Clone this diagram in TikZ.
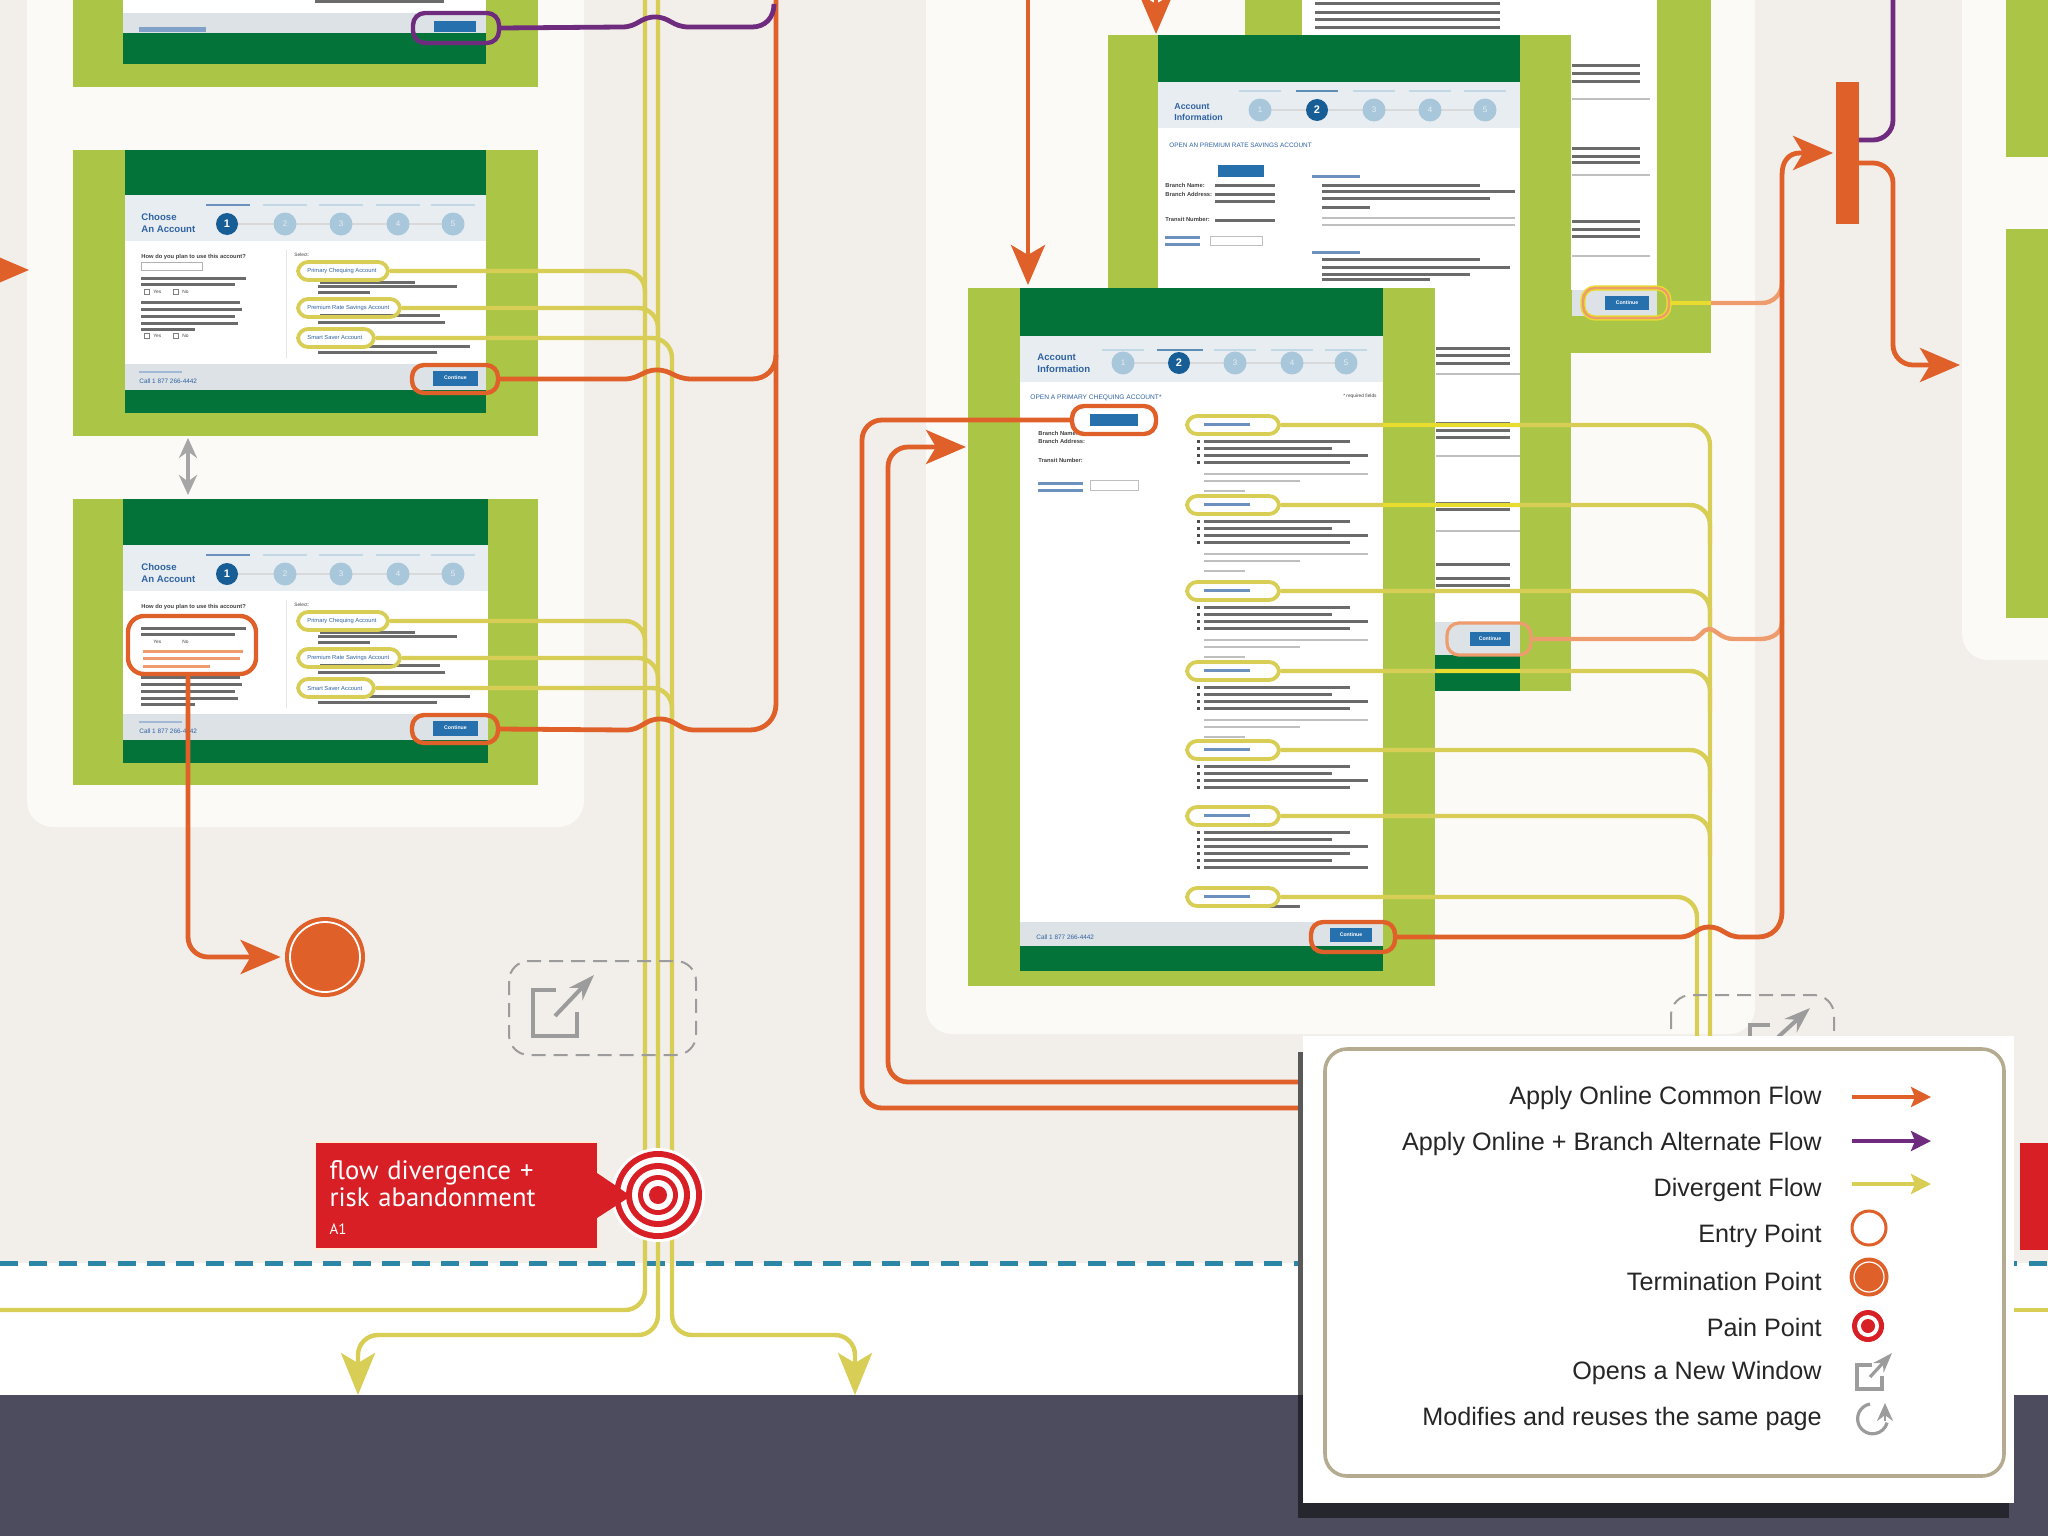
\documentclass[tikz,border=0pt]{standalone}
\usepackage{fontspec}
\setmainfont{Liberation Sans}
\newfontfamily\calloutfont{PT Sans}
\usetikzlibrary{arrows.meta,positioning,calc}
\definecolor{pagebg}{HTML}{F2EEEA}
\definecolor{panelbg}{HTML}{FCFAF7}
\definecolor{framegreen}{HTML}{ABC646}
\definecolor{darkgreen}{HTML}{04733A}
\definecolor{headbg}{HTML}{E8EDF1}
\definecolor{footbg}{HTML}{DCE2E5}
\definecolor{stepdim}{HTML}{A9C7DA}
\definecolor{stepon}{HTML}{175E97}
\definecolor{btnblue}{HTML}{2670AD}
\definecolor{linkblue}{HTML}{2F62A3}
\definecolor{floworange}{HTML}{E0602A}
\definecolor{flowlight}{HTML}{EE9C6E}
\definecolor{flowyellow}{HTML}{D8CE55}
\definecolor{brightyellow}{HTML}{E8DC2E}
\definecolor{flowpurple}{HTML}{6F2C7E}
\definecolor{painred}{HTML}{D81F26}
\definecolor{slatedark}{HTML}{4C4C5E}
\definecolor{legendshade}{HTML}{26262F}
\definecolor{dashblue}{HTML}{2B87A5}
\definecolor{icongrey}{HTML}{9C9C9C}
\definecolor{legendline}{HTML}{B5AB90}

\begin{document}
\begin{tikzpicture}[
    x=0.5pt, y=-0.5pt,
    panel/.style={fill=panelbg, rounded corners=13pt},
    greenframe/.style={fill=framegreen, inner sep=0},
    shottext/.style={font=\fontsize{2.9}{3.5}\selectfont\bfseries, inner sep=0, anchor=west, text=black!75},
    linktext/.style={font=\fontsize{2.9}{3.5}\selectfont, inner sep=0, anchor=west, text=linkblue},
    headtext/.style={font=\fontsize{4.8}{5.8}\selectfont\bfseries, inner sep=0, anchor=west, align=left, text=linkblue},
    btn/.style={fill=btnblue, text=white, font=\fontsize{2.6}{3}\selectfont\bfseries, inner sep=0},
    stepdot/.style={circle, fill=stepdim, inner sep=0, minimum size=11.5pt, text=white!70!stepdim, font=\fontsize{4}{4}\selectfont},
    stepact/.style={circle, fill=stepon, inner sep=0, minimum size=11pt, text=white, font=\fontsize{5.5}{6}\selectfont\bfseries},
    textbar/.style={fill=black!58},
    notebar/.style={fill=black!25},
    labelbar/.style={fill=stepdim!70},
    yellowring/.style={draw=flowyellow, line width=1.9pt, rounded corners=5pt, inner sep=0},
    orangering/.style={draw=floworange, line width=2.2pt, rounded corners=6pt, inner sep=0},
    purplering/.style={draw=flowpurple, line width=2.2pt, rounded corners=6pt, inner sep=0},
    lightring/.style={draw=flowlight, line width=1.6pt, rounded corners=6pt, inner sep=0},
    yellowflow/.style={draw=flowyellow, line width=2.2pt, rounded corners=10pt},
    orangeflow/.style={draw=floworange, line width=2.4pt, rounded corners=10pt},
    lightflow/.style={draw=flowlight, line width=2.2pt, rounded corners=10pt},
    purpleflow/.style={draw=flowpurple, line width=2.4pt, rounded corners=10pt},
    orangehead/.style={-{Stealth[length=20pt,width=17pt,inset=5pt]}},
    yellowhead/.style={-{Stealth[length=21pt,width=17pt,inset=5pt]}},
    popupbox/.style={draw=icongrey, line width=1pt, dashed, dash pattern=on 7pt off 4pt, rounded corners=10pt},
    popupicon/.style={draw=icongrey, line width=2pt},
    legtext/.style={anchor=east, inner sep=0, text=black!85, font=\fontsize{12.6}{14}\selectfont},
    >=Stealth
  ]
  \useasboundingbox (0,0) rectangle (2048,1536);
  \clip (0,0) rectangle (2048,1536);

  % Ground and panels
  \fill[pagebg] (0,0) rectangle (2048,1263);
  \fill[white] (0,1263) rectangle (2048,1395);
  \fill[slatedark] (0,1395) rectangle (2048,1536);
  \fill[panel] (27,-40) rectangle (584,827);
  \fill[panel] (926,-40) rectangle (1755,1034);
  \fill[panel] (1962,-40) rectangle (2100,660);
  \fill[framegreen] (2006,-10) rectangle (2060,157);
  \fill[framegreen] (2006,229) rectangle (2060,618);
  \draw[dashblue, line width=2.5pt, dash pattern=on 9pt off 5.7pt] (0,1263) -- (2048,1263);

  % Back screen
  \node[greenframe, minimum width=233pt, minimum height=190pt] (framee) at (1478,163) {};
  \fill[white] (1302,-10) rectangle (1657,290);
  \fill[footbg] (1572,290) rectangle (1657,316);
  \foreach \ya in {64,72,80,147,155,161,220,228,235} {
    \fill[textbar] (1572,\ya) rectangle (1640,\ya+3);
  }
  \foreach \ya in {98,174,255} {
    \fill[notebar] (1572,\ya) rectangle (1650,\ya+2);
  }
  \foreach \ya in {2,11,18,26} {
    \fill[textbar] (1315,\ya) rectangle (1500,\ya+3);
  }
  \node[btn, minimum width=22pt, minimum height=7pt] (ebtnface) at (1627,303) {Continue};
  \node[draw=brightyellow, line width=2.6pt, rounded corners=6pt, inner sep=0, minimum width=43pt, minimum height=15pt] (ebtn) at (1626,303) {};
  \node[lightring, line width=1.2pt, minimum width=43pt, minimum height=15pt] (ebtnin) at (1626,303) {};

  % Savings screen
  \node[greenframe, minimum width=231.5pt, minimum height=328pt] (framed) at (1339.5,363) {};
  \fill[darkgreen] (1158,35) rectangle (1520,691);
  \fill[headbg] (1158,82) rectangle (1520,128);
  \fill[white] (1158,128) rectangle (1520,622);
  \fill[footbg] (1158,622) rectangle (1520,655);
  \draw[black!15, line width=.6pt] (1260,110) -- (1485,110);
  \foreach \sx/\sn in {1260/1,1374/3,1430/4,1485/5} {
    \node[stepdot] (dstep\sn) at (\sx,110) {\sn};
    \fill[labelbar] (\sx-21,90) rectangle (\sx+21,92);
  }
  \node[stepact] (dstep2) at (1317,110) {2};
  \fill[stepon!70] (1296,90) rectangle (1338,92);
  \node[headtext, font=\fontsize{4.4}{5.2}\selectfont\bfseries] (dhead) at (1174,112) {Account\\Information};
  \node[linktext, font=\fontsize{3.2}{4}\selectfont] (dtitle) at (1169,145) {OPEN AN PREMIUM RATE SAVINGS ACCOUNT};
  \node[btn, minimum width=23pt, minimum height=6pt] (dselect) at (1241,171) {};
  \node[shottext] (dbranch) at (1165,185) {Branch Name:};
  \node[shottext] (daddr) at (1165,194) {Branch Address:};
  \node[shottext] (dtransit) at (1165,219) {Transit Number:};
  \foreach \ya in {184,193,200,219} {
    \fill[textbar] (1215,\ya) rectangle (1275,\ya+2.6);
  }
  \foreach \ya in {236,243} {
    \fill[linkblue!70] (1165,\ya) rectangle (1200,\ya+2.5);
  }
  \draw[black!25, line width=.4pt] (1210,236) rectangle (1262,245);
  \foreach \ya in {175,251} {
    \fill[linkblue!70] (1312,\ya) rectangle (1360,\ya+3);
  }
  \foreach \xb/\ya in {1480/184,1515/190,1490/197,1370/206,1480/258,1510/266,1470/273,1430/278} {
    \fill[textbar] (1322,\ya) rectangle (\xb,\ya+3);
  }
  \foreach \ya in {217,224} {
    \fill[notebar] (1322,\ya) rectangle (1515,\ya+2);
  }
  \foreach \ya in {347,354,362,422,429,436,502,508,563,577,584} {
    \fill[textbar] (1436,\ya) rectangle (1510,\ya+3);
  }
  \foreach \ya in {373,455,530} {
    \fill[notebar] (1436,\ya) rectangle (1520,\ya+2);
  }
  \node[btn, minimum width=20pt, minimum height=7pt] (dbtnface) at (1490,639) {Continue};
  \node[lightring, minimum width=42pt, minimum height=16pt] (dbtn) at (1489,639) {};

  % Chequing screen
  \node[greenframe, minimum width=233.5pt, minimum height=349pt] (framef) at (1201.5,637) {};
  \fill[darkgreen] (1020,288) rectangle (1383,971);
  \fill[headbg] (1020,336) rectangle (1383,382);
  \fill[white] (1020,382) rectangle (1383,922);
  \fill[footbg] (1020,922) rectangle (1383,946);
  \draw[black!15, line width=.6pt] (1123,363) -- (1346,363);
  \foreach \sx/\sn in {1123/1,1235/3,1292/4,1346/5} {
    \node[stepdot] (fstep\sn) at (\sx,363) {\sn};
    \fill[labelbar] (\sx-21,349) rectangle (\sx+21,351);
  }
  \node[stepact] (fstep2) at (1179,363) {2};
  \fill[stepon!70] (1157,349) rectangle (1203,351);
  \node[headtext] (fhead) at (1037,363) {Account\\Information};
  \node[linktext, font=\fontsize{3.3}{4}\selectfont] (ftitle) at (1030,398) {OPEN A PRIMARY CHEQUING ACCOUNT*};
  \node[shottext, anchor=east, font=\fontsize{2.4}{3}\selectfont] (freq) at (1377,396) {* required fields};
  \node[btn, minimum width=24pt, minimum height=6pt] (fselface) at (1114,420) {};
  \node[shottext] (fbranch) at (1038,433) {Branch Name:};
  \node[shottext] (faddr) at (1038,441) {Branch Address:};
  \node[shottext] (ftransit) at (1038,460) {Transit Number:};
  \foreach \ya in {482,489} {
    \fill[linkblue!70] (1038,\ya) rectangle (1083,\ya+2.5);
  }
  \draw[black!25, line width=.4pt] (1090,480) rectangle (1138,490);
  \foreach \py/\nb in {425/4,505/4,591/4,671/4,750/4,816/6} {
    \foreach \k in {1,...,\nb} {
      \fill[textbar] (1204,\py+8+7*\k) rectangle ({1368-18*mod(\k,3)},\py+11+7*\k);
      \fill[black!70] (1197,\py+8+7*\k) rectangle (1200,\py+11+7*\k);
    }
  }
  \foreach \py in {425,505,591,671} {
    \fill[notebar] (1204,\py+48) rectangle (1368,\py+50);
    \fill[notebar] (1204,\py+55) rectangle (1300,\py+57);
    \fill[notebar] (1204,\py+65) rectangle (1245,\py+67);
  }
  \fill[textbar] (1204,905) rectangle (1300,908);
  \node[btn, minimum width=21pt, minimum height=7pt] (fbtnface) at (1351,935) {Continue};
  \node[shottext, font=\fontsize{3.2}{4}\selectfont, text=linkblue] (fcall) at (1036,937) {Call 1 877 266-4442};

  % Rings on the chequing screen
  \foreach \n/\py in {1/425,2/505,3/591,4/671,5/750,6/816,7/897} {
    \node[yellowring, minimum width=46pt, minimum height=9pt] (fplan\n) at (1233,\py) {};
    \fill[linkblue!70] (1204,\py-2) rectangle (1250,\py+1);
  }
  \node[orangering, minimum width=42pt, minimum height=14pt] (fselect) at (1114,420) {};
  \node[orangering, minimum width=42pt, minimum height=15pt] (fbtn) at (1353,937) {};

  % Top screen on the left
  \node[greenframe, minimum width=232.5pt, minimum height=47pt] (framea) at (305.5,40) {};
  \fill[white] (123,-10) rectangle (486,13);
  \fill[footbg] (123,13) rectangle (486,33);
  \fill[darkgreen] (123,33) rectangle (486,64);
  \fill[textbar] (315,0) rectangle (444,3);
  \fill[linkblue!60] (139,27) rectangle (206,32);
  \node[btn, minimum width=21pt, minimum height=5.5pt] (abtnface) at (455,27) {};
  \node[purplering, minimum width=43pt, minimum height=15pt] (abtn) at (456,28) {};

  % The two account screens
  \foreach \n/\yo/\xl/\xr/\ym/\yt in {b/0/125/486/293/150,c/350/123/488/641.5/499} {
    \node[greenframe, minimum width=232.5pt, minimum height=143pt] (frame\n) at (305.5,\ym) {};
    \fill[darkgreen] (\xl,\yt) rectangle (\xr,413+\yo);
    \fill[headbg] (\xl,195+\yo) rectangle (\xr,241+\yo);
    \fill[white] (\xl,241+\yo) rectangle (\xr,364+\yo);
    \fill[footbg] (\xl,364+\yo) rectangle (\xr,390+\yo);
    \node[headtext] (head\n) at (141,223+\yo) {Choose\\An Account};
    \draw[black!15, line width=.6pt] (227,224+\yo) -- (453,224+\yo);
    \foreach \sx/\sn in {285/2,341/3,398/4,453/5} {
      \node[stepdot] (\n step\sn) at (\sx,224+\yo) {\sn};
      \fill[labelbar] (\sx-22,204+\yo) rectangle (\sx+22,206+\yo);
    }
    \node[stepact] (\n step1) at (227,224+\yo) {1};
    \fill[linkblue!70] (206,204+\yo) rectangle (250,206+\yo);
    \draw[black!10, line width=.4pt] (286,250+\yo) -- (286,358+\yo);
    \node[shottext] (ask\n) at (141,257+\yo) {How do you plan to use this account?};
    \node[shottext, font=\fontsize{2.4}{3}\selectfont] (sel\n) at (294,255+\yo) {Select:};
    \node[linktext] (pick\n1) at (307,271+\yo) {Primary Chequing Account};
    \node[linktext] (pick\n2) at (307,308+\yo) {Premium Rate Savings Account};
    \node[linktext] (pick\n3) at (307,338+\yo) {Smart Saver Account};
    \foreach \xa/\xb/\ya in {320/415/281,318/457/285,318/370/291,320/440/314,318/445/321,320/470/345,318/437/351} {
      \fill[textbar] (\xa,\ya+\yo) rectangle (\xb,\ya+\yo+2.6);
    }
    \fill[linkblue!45] (139,371+\yo) rectangle (182,373+\yo);
    \node[shottext, font=\fontsize{3.2}{4}\selectfont, text=linkblue] (call\n) at (139,381+\yo) {Call 1 877 266-4442};
    \node[btn, minimum width=22.5pt, minimum height=7.5pt] (btnface\n) at (455.5,378+\yo) {Continue};
    \node[yellowring, minimum width=45pt, minimum height=9pt] (\n1) at (343,271+\yo) {};
    \node[yellowring, minimum width=51pt, minimum height=9pt] (\n2) at (349,308+\yo) {};
    \node[yellowring, minimum width=38pt, minimum height=9pt] (\n3) at (336,338+\yo) {};
    \node[orangering, minimum width=43pt, minimum height=14pt] (\n btn) at (455,379+\yo) {};
  }
  % left column of the upper account screen
  \draw[black!30, line width=.4pt] (141,262) rectangle (202,270);
  \foreach \xa/\xb/\ya in {141/246/277,141/235/283,141/240/301,141/242/308,141/235/315,141/238/322,141/195/328} {
    \fill[textbar] (\xa,\ya) rectangle (\xb,\ya+2.6);
  }
  \foreach \ya in {292,336} {
    \node[shottext, font=\fontsize{2.4}{3}\selectfont] (yes\ya) at (153,\ya) {Yes};
    \node[shottext, font=\fontsize{2.4}{3}\selectfont] (no\ya) at (182,\ya) {No};
    \draw[black!50, line width=.3pt] (144,\ya-3) rectangle (149,\ya+2);
    \draw[black!50, line width=.3pt] (173,\ya-3) rectangle (178,\ya+2);
  }
  % left column of the lower account screen
  \foreach \xa/\xb/\ya in {141/246/627,141/235/633,141/240/676,141/242/683,141/235/690,141/238/697,141/195/703} {
    \fill[textbar] (\xa,\ya) rectangle (\xb,\ya+2.6);
  }
  \foreach \xa/\xb/\ya in {143/243/650,143/240/657,143/210/665} {
    \fill[flowlight] (\xa,\ya) rectangle (\xb,\ya+2.6);
  }
  \node[shottext, font=\fontsize{2.4}{3}\selectfont] (yesc) at (153,642) {Yes};
  \node[shottext, font=\fontsize{2.4}{3}\selectfont] (noc) at (182,642) {No};
  \node[orangering, minimum width=64pt, minimum height=29pt, rounded corners=8pt] (cerr) at (192,645) {};

  % Bus lines and divergent flow
  \coordinate (busa) at (645,-10);
  \coordinate (busb) at (658,-10);
  \coordinate (busaend) at (-10,1310);
  \coordinate (arrl) at (358,1395);
  \coordinate (arrr) at (855,1395);
  \draw[yellowflow] (busa) -- (645,1310) -- (busaend);
  \draw[yellowflow, yellowhead] (busb) -- (658,1335) -- (358,1335) -- (arrl);
  \draw[yellowflow, yellowhead] (b3.east) -- (672,338) -- (672,1335) -- (855,1335) -- (arrr);
  \foreach \n/\yo in {b/0,c/350} {
    \draw[yellowflow] (\n1.east) -- (645,271+\yo) -- (645,310+\yo);
    \draw[yellowflow] (\n2.east) -- (658,308+\yo) -- (658,345+\yo);
  }
  \draw[yellowflow] (c3.east) -- (672,688) -- (672,725);
  \coordinate (busrs) at (2000,1310);
  \coordinate (busre) at (2060,1310);
  \draw[yellowflow] (busrs) -- (busre);

  % Flow out of the chequing screen
  \coordinate (busdown) at (1710,1050);
  \coordinate (busdowni) at (1697,1050);
  \draw[yellowflow] (fplan1.east) -- (1710,425) -- (busdown);
  \foreach \n/\py in {2/505,3/591,4/671,5/750,6/816} {
    \draw[yellowflow] (fplan\n.east) -- (1710,\py) -- (1710,\py+40);
  }
  \draw[yellowflow] (fplan7.east) -- (1697,897) -- (busdowni);
  \foreach \py in {425,505} {
    \draw[brightyellow, line width=2pt] (1383,\py) -- (1520,\py);
  }
  \draw[brightyellow, line width=2pt] (1436,671) -- (1520,671);

  % Orange flow on the left
  \draw[orangeflow, sharp corners] (cbtn.east) -- (626,730) .. controls (642,730) and (644,719) .. (660,719) .. controls (676,719) and (678,730) .. (695,730) -- (750,730) .. controls (765,730) and (776,719) .. (776,704) -- (776,-10);
  \draw[orangeflow, sharp corners] (bbtn.east) -- (624,379) .. controls (640,379) and (642,370) .. (657,370) .. controls (672,370) and (674,379) .. (692,379) -- (752,379) .. controls (766,379) and (776,369) .. (776,355);
  \draw[purpleflow, sharp corners] (abtn.east) -- (622,27) .. controls (638,27) and (640,17) .. (655,17) .. controls (670,17) and (672,27) .. (689,27) -- (752,27) .. controls (765,27) and (774,18) .. (774,4);
  \coordinate (termgo) at (188,674);
  \node[circle, fill=floworange, inner sep=0, minimum size=40pt] (termring) at (325,957) {};
  \node[circle, draw=white, line width=.9pt, fill=floworange, inner sep=0, minimum size=35pt] (term) at (325,957) {};
  \draw[orangeflow, orangehead, shorten >=2pt] (termgo) -- (188,957) -- (termring.west);
  \coordinate (swaptop) at (188,438);
  \coordinate (swapbot) at (188,495);
  \draw[<->, >={Stealth[length=10pt,width=9pt]}, black!35, line width=1.8pt] (swaptop) -- (swapbot);

  % Orange flow on the right
  \node[fill=floworange, inner sep=0, minimum width=11.5pt, minimum height=71pt] (gate) at (1847,153) {};
  \draw[lightflow, sharp corners] (dbtn.east) -- (1692,639) .. controls (1700,639) and (1702,629) .. (1709,629) .. controls (1716,629) and (1720,639) .. (1734,639) -- (1760,639) .. controls (1772,639) and (1782,633) .. (1782,622);
  \draw[lightflow] (ebtn.east) -- (1782,303) -- (1782,280);
  \draw[brightyellow, line width=2pt] (1670,303) -- (1711,303);
  \draw[orangeflow, orangehead, sharp corners, shorten >=1pt] (fbtn.east) -- (1679,937) .. controls (1695,937) and (1695,927) .. (1709,927) .. controls (1723,927) and (1725,937) .. (1741,937) -- (1758,937) .. controls (1772,937) and (1782,927) .. (1782,912) -- (1782,175) .. controls (1782,162) and (1788,153) .. (1800,153) -- (gate.west);
  \coordinate (purpletop) at (1893,-10);
  \coordinate (gateout) at (1960,365);
  \draw[purpleflow] (gate.east |- 0,140) -- (1893,140) -- (purpletop);
  \draw[orangeflow, orangehead] (gate.east |- 0,163) -- (1893,163) -- (1893,365) -- (gateout);
  \coordinate (topas) at (1028,-10);
  \coordinate (topae) at (1028,285);
  \coordinate (topbs) at (1156,-40);
  \coordinate (topbe) at (1156,34);
  \coordinate (sidas) at (-40,270);
  \coordinate (sidae) at (29,270);
  \draw[orangeflow, orangehead] (topas) -- (topae);
  \draw[orangeflow, orangehead] (topbs) -- (topbe);
  \draw[orangeflow, orangehead] (sidas) -- (sidae);
  \coordinate (backas) at (1320,1108);
  \coordinate (backbs) at (1320,1082);
  \coordinate (backbe) at (966,447);
  \draw[orangeflow] (backas) -- (862,1108) -- (862,420) -- (fselect.west);
  \draw[orangeflow, orangehead] (backbs) -- (888,1082) -- (888,447) -- (backbe);

  % New window marks
  \draw[popupbox] (509,961) rectangle (696,1055);
  \draw[popupicon] (556,990) -- (533,990) -- (533,1036) -- (577,1036) -- (577,1012);
  \draw[popupicon, -{Stealth[length=13pt,width=9pt]}] (555,1016) -- (594,975);
  \draw[popupbox] (1671,995) rectangle (1834,1060);
  \draw[popupicon] (1770,1025) -- (1750,1025) -- (1750,1060);
  \draw[popupicon, -{Stealth[length=13pt,width=9pt]}] (1777,1038) -- (1810,1008);

  % Pain point
  \node[fill=painred, draw=white!85!orange, line width=.8pt, inner sep=0, minimum width=141.5pt, minimum height=53.5pt, text=white, text width=127pt, align=left, font=\calloutfont\fontsize{13.3}{13.3}\selectfont] (callout) at (456.5,1195.5) {\vphantom{g}\\[-8.5pt]flow divergence +\\risk abandonment\\[1pt]{\fontsize{7.5}{8}\selectfont A1}};
  \foreach \r/\c in {47/white,44/painred,38/white,32/painred,26/white,20/painred,15/white,9/painred} {
    \node[circle, fill=\c, inner sep=0, minimum size=\r pt] (target\r) at (658,1195) {};
  }
  \fill[painred] (597,1173) -- (631,1196) -- (597,1218) -- cycle;
  \node[fill=painred, inner sep=0, minimum width=20pt, minimum height=53.5pt] (calloutr) at (2040,1196) {};

  % Legend
  \fill[black!65] (1298,1052) rectangle (1303,1395);
  \fill[legendshade] (1298,1395) rectangle (2009,1518);
  \fill[white] (1303,1036) rectangle (2014,1503);
  \node[draw=legendline, line width=1.8pt, rounded corners=11pt, inner sep=0, minimum width=339.5pt, minimum height=213.5pt] (legend) at (1664.5,1262.5) {};
  \foreach \k/\y/\t in {1/1098/Apply Online Common Flow,2/1144/Apply Online + Branch Alternate Flow,3/1190/Divergent Flow,4/1236/Entry Point,5/1281/Termination Point,6/1327/Pain Point,7/1373/Opens a New Window,8/1419/Modifies and reuses the same page} {
    \node[legtext] (leg\k) at (1822,\y) {\t};
  }
  \foreach \k/\y/\c in {1/1097/floworange,2/1141/flowpurple,3/1184/flowyellow} {
    \coordinate (legs\k) at (1852,\y);
    \coordinate (lege\k) at (1931,\y);
    \draw[\c, line width=2pt, -{Stealth[length=10pt,width=10pt,inset=2pt]}] (legs\k) -- (lege\k);
  }
  \node[circle, draw=floworange, line width=1.5pt, fill=white, inner sep=0, minimum size=17pt] (legentry) at (1869,1228) {};
  \node[circle, fill=floworange, inner sep=0, minimum size=19.5pt] (legterm) at (1869,1277) {};
  \node[circle, draw=white, line width=.6pt, fill=floworange, inner sep=0, minimum size=15pt] (legterm2) at (1869,1277) {};
  \foreach \r/\c in {16/painred,11/white,7/painred} {
    \node[circle, fill=\c, inner sep=0, minimum size=\r pt] (legpain\r) at (1868,1326) {};
  }
  \draw[popupicon, line width=1.8pt] (1872,1365) -- (1857,1365) -- (1857,1389) -- (1882,1389) -- (1882,1376);
  \draw[popupicon, line width=1.6pt, -{Stealth[length=10pt,width=7pt]}] (1870,1377) -- (1892,1353);
  \draw[popupicon, line width=1.6pt] (1870,1404) arc[start angle=100, end angle=345, radius=7.5pt];
  \draw[popupicon, line width=1.2pt, -{Stealth[length=9pt,width=8pt]}] (1885,1421) -- (1885,1403);
\end{tikzpicture}
\end{document}
